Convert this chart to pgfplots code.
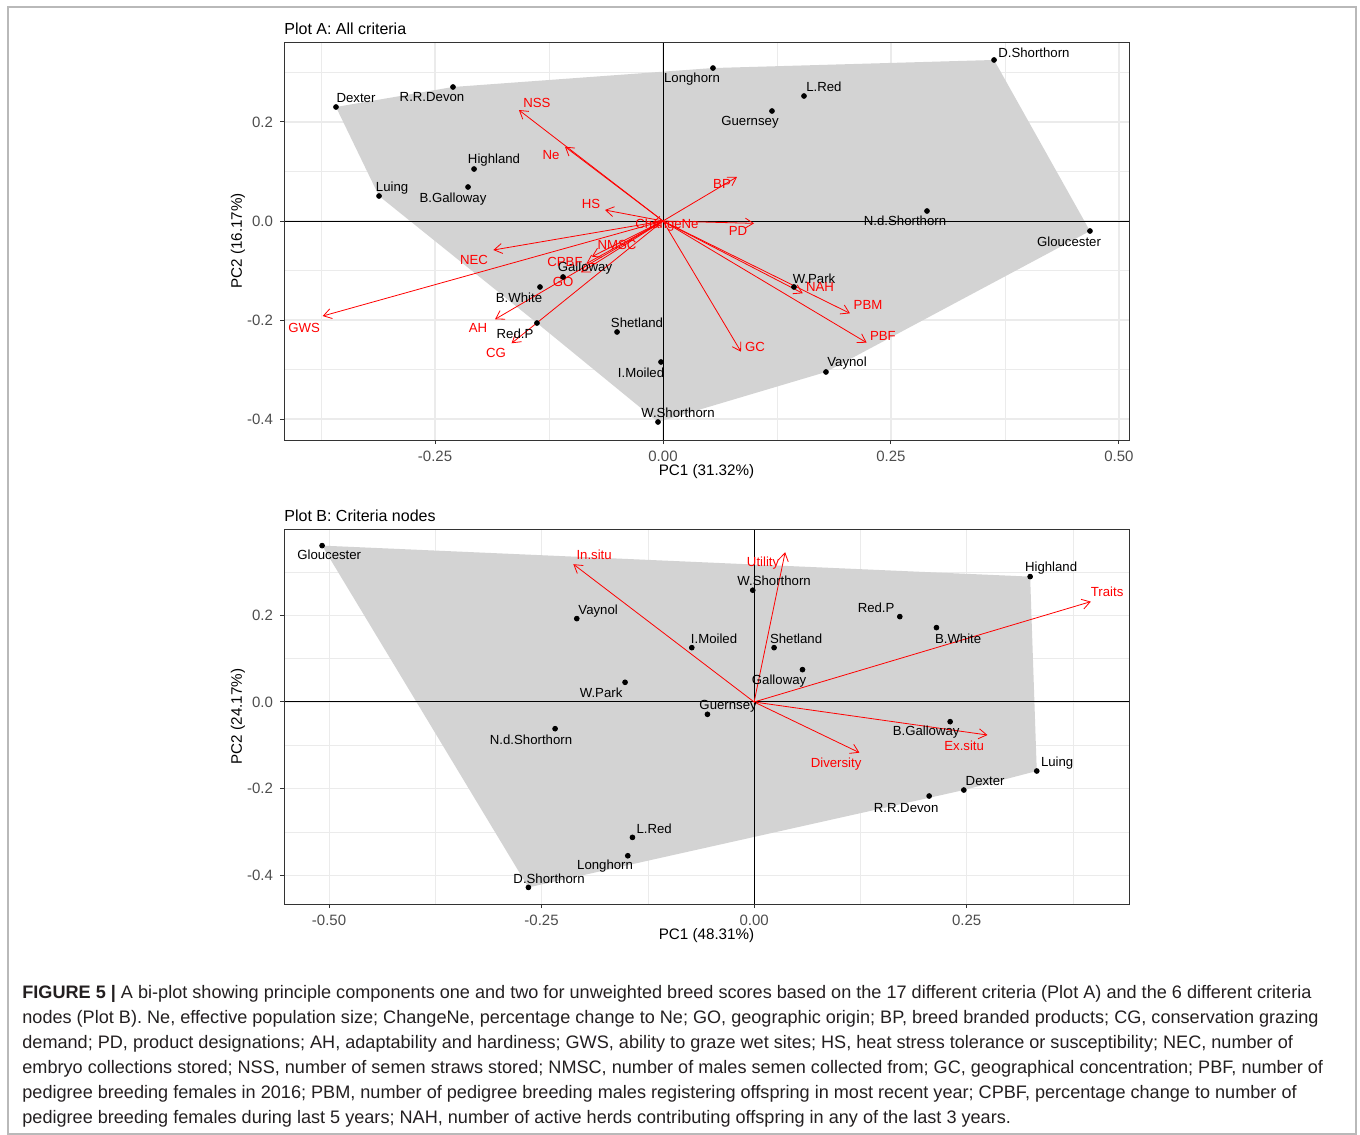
\documentclass[border=0pt]{standalone}
\usepackage{pgfplots}
\pgfplotsset{compat=1.18}
\usepackage{fontspec}
\setmainfont{Liberation Sans}
\usetikzlibrary{arrows.meta}
\definecolor{gridc}{HTML}{EBEBEB}
\definecolor{hullc}{HTML}{D3D3D3}
\definecolor{borderc}{HTML}{333333}
\definecolor{ticklab}{HTML}{4D4D4D}
\definecolor{capc}{HTML}{231F20}
\definecolor{arrc}{HTML}{FF0000}
\pgfplotsset{
 bip/.style={
  scale only axis, width=422.5pt,
  axis line style={draw=borderc, line width=0.5pt},
  tick align=outside, major tick length=2pt, minor tick length=0pt,
  tick style={draw=borderc, line width=0.5pt},
  xtick pos=bottom, ytick pos=left,
  xmajorgrids, ymajorgrids, xminorgrids, yminorgrids,
  major grid style={draw=gridc, line width=0.55pt},
  minor grid style={draw=gridc, line width=0.3pt},
  ticklabel style={font=\fontsize{7.5}{8}\selectfont, text=ticklab},
  clip=false,
 },
 arr/.style={arrc, line width=0.4pt, -{Straight Barb[length=4pt,width=5pt]}},
 dots/.style={only marks, mark=*, mark size=1.2pt, black},
 hull/.style={fill=hullc, draw=none},
}
\tikzset{
 lab/.style={font=\fontsize{6.6}{7}\selectfont, inner sep=0pt, anchor=center, text=black},
 rlab/.style={font=\fontsize{6.6}{7}\selectfont, inner sep=0pt, anchor=center, text=arrc},
 capl/.style={font=\fontsize{9.05}{10}\selectfont, inner sep=0pt, anchor=base west, text=capc},
}
\begin{document}
\begin{tikzpicture}
\useasboundingbox (0,0) rectangle (680pt,-567.5pt);
\draw[gray!55, line width=0.6pt] (4pt,-3.5pt) rectangle (678pt,-567pt);

% ---------- Plot A ----------
\node[anchor=west, inner sep=0pt, font=\fontsize{8}{9}\selectfont] at (142pt,-14.5pt) {Plot A: All criteria};
\begin{axis}[bip, at={(142pt,-21pt)}, anchor=north west, height=199pt,
  xmin=-0.4156, xmax=0.511, ymin=-0.4424, ymax=0.3616,
  xtick={-0.25,0,0.25,0.5}, xticklabels={-0.25,0.00,0.25,0.50},
  ytick={-0.4,-0.2,0,0.2}, yticklabels={-0.4,-0.2,0.0,0.2},
  minor xtick={-0.375,-0.125,0.125,0.375}, minor ytick={-0.3,-0.1,0.1,0.3}]
\addplot[hull] coordinates {(-0.3586,0.2303) (-0.2303,0.2707) (0.0548,0.3090) (0.3630,0.3253) (0.4682,-0.0202) (0.1787,-0.3050) (-0.0055,-0.4060) (-0.1382,-0.2061) (-0.3114,0.0505)} --cycle;
\draw[black, line width=0.5pt] (axis cs:0,-0.4424) -- (axis cs:0,0.3616);
\draw[black, line width=0.5pt] (axis cs:-0.4156,0) -- (axis cs:0.511,0);
\addplot[arr] coordinates {(0,0) (-0.158,0.2242)};
\addplot[arr] coordinates {(0,0) (-0.1075,0.150)};
\addplot[arr] coordinates {(0,0) (-0.0636,0.0222)};
\addplot[arr] coordinates {(0,0) (0.0811,0.0889)};
\addplot[arr] coordinates {(0,0) (0.0998,-0.0047)};
\addplot[arr] coordinates {(0,0) (-0.012,-0.004)};
\addplot[arr] coordinates {(0,0) (-0.186,-0.0586)};
\addplot[arr] coordinates {(0,0) (-0.3732,-0.192)};
\addplot[arr] coordinates {(0,0) (-0.078,-0.072)};
\addplot[arr] coordinates {(0,0) (-0.084,-0.086)};
\addplot[arr] coordinates {(0,0) (-0.090,-0.104)};
\addplot[arr] coordinates {(0,0) (-0.1842,-0.1986)};
\addplot[arr] coordinates {(0,0) (-0.166,-0.247)};
\addplot[arr] coordinates {(0,0) (0.0855,-0.264)};
\addplot[arr] coordinates {(0,0) (0.1532,-0.146)};
\addplot[arr] coordinates {(0,0) (0.205,-0.1865)};
\addplot[arr] coordinates {(0,0) (0.2233,-0.2458)};
\addplot[dots] coordinates {(-0.3586,0.2303) (-0.2303,0.2707) (0.0548,0.3090) (0.1546,0.2525) (0.1195,0.2222) (0.3630,0.3253) (-0.2072,0.1050) (-0.3114,0.0505) (-0.2138,0.0687) (0.2895,0.0202) (0.4682,-0.0202) (-0.1096,-0.1131) (-0.1349,-0.1333) (-0.1382,-0.2061) (-0.0504,-0.2242) (0.1436,-0.1333) (-0.0022,-0.2848) (0.1787,-0.3050) (-0.0055,-0.4060)};
\node[lab] at (axis cs:-0.3366,0.2485) {Dexter};
\node[lab] at (axis cs:-0.2533,0.2505) {R.R.Devon};
\node[lab] at (axis cs:0.0318,0.2869) {Longhorn};
\node[lab] at (axis cs:0.1765,0.2707) {L.Red};
\node[lab] at (axis cs:0.0954,0.2) {Guernsey};
\node[lab] at (axis cs:0.4068,0.3394) {D.Shorthorn};
\node[lab] at (axis cs:-0.1853,0.1232) {Highland};
\node[lab] at (axis cs:-0.2971,0.0667) {Luing};
\node[lab] at (axis cs:-0.2303,0.0444) {B.Galloway};
\node[lab] at (axis cs:0.2654,0) {N.d.Shorthorn};
\node[lab] at (axis cs:0.4452,-0.0424) {Gloucester};
\node[lab] at (axis cs:-0.0855,-0.0949) {Galloway};
\node[lab] at (axis cs:-0.1579,-0.1556) {B.White};
\node[lab] at (axis cs:-0.1623,-0.2283) {Red.P};
\node[lab] at (axis cs:-0.0285,-0.2061) {Shetland};
\node[lab] at (axis cs:0.1656,-0.1172) {W.Park};
\node[lab] at (axis cs:-0.0241,-0.3071) {I.Moiled};
\node[lab] at (axis cs:0.2018,-0.2869) {Vaynol};
\node[lab] at (axis cs:0.0164,-0.3879) {W.Shorthorn};
\node[rlab] at (axis cs:-0.1382,0.2384) {NSS};
\node[rlab] at (axis cs:-0.1228,0.1333) {Ne};
\node[rlab] at (axis cs:-0.0789,0.0343) {HS};
\node[rlab] at (axis cs:0.0647,0.0747) {BP};
\node[rlab] at (axis cs:0.0822,-0.0202) {PD};
\node[rlab] at (axis cs:0.0044,-0.0081) {ChangeNe};
\node[rlab] at (axis cs:-0.2072,-0.0788) {NEC};
\node[rlab] at (axis cs:-0.3936,-0.2162) {GWS};
\node[rlab] at (axis cs:-0.0504,-0.0485) {NMSC};
\node[rlab] at (axis cs:-0.1075,-0.0828) {CPBF};
\node[rlab] at (axis cs:-0.1096,-0.1232) {GO};
\node[rlab] at (axis cs:-0.2029,-0.2162) {AH};
\node[rlab] at (axis cs:-0.1831,-0.2667) {CG};
\node[rlab] at (axis cs:0.1009,-0.2545) {GC};
\node[rlab] at (axis cs:0.1721,-0.1333) {NAH};
\node[rlab] at (axis cs:0.2248,-0.1697) {PBM};
\node[rlab] at (axis cs:0.2412,-0.2323) {PBF};
\draw[borderc, line width=0.5pt] (rel axis cs:0,0) rectangle (rel axis cs:1,1);
\end{axis}
\node[inner sep=0pt, font=\fontsize{7.6}{9}\selectfont] at (353.25pt,-236pt) {PC1 (31.32\%)};
\node[inner sep=0pt, rotate=90, font=\fontsize{7.6}{9}\selectfont] at (119pt,-120.5pt) {PC2 (16.17\%)};

% ---------- Plot B ----------
\node[anchor=west, inner sep=0pt, font=\fontsize{8}{9}\selectfont] at (142pt,-258pt) {Plot B: Criteria nodes};
\begin{axis}[bip, at={(142pt,-264.5pt)}, anchor=north west, height=187.5pt,
  xmin=-0.553, xmax=0.441, ymin=-0.466, ymax=0.399,
  xtick={-0.5,-0.25,0,0.25}, xticklabels={-0.50,-0.25,0.00,0.25},
  ytick={-0.4,-0.2,0,0.2}, yticklabels={-0.4,-0.2,0.0,0.2},
  minor xtick={-0.375,-0.125,0.125,0.375}, minor ytick={-0.3,-0.1,0.1,0.3}]
\addplot[hull] coordinates {(-0.5082,0.3607) (0.3247,0.2892) (0.3325,-0.1592) (0.2467,-0.2031) (-0.2655,-0.4277)} --cycle;
\draw[black, line width=0.5pt] (axis cs:0,-0.466) -- (axis cs:0,0.399);
\draw[black, line width=0.5pt] (axis cs:-0.553,0) -- (axis cs:0.441,0);
\addplot[arr] coordinates {(0,0) (-0.2126,0.3178)};
\addplot[arr] coordinates {(0,0) (0.0365,0.3455)};
\addplot[arr] coordinates {(0,0) (0.3961,0.2315)};
\addplot[arr] coordinates {(0,0) (0.2745,-0.0762)};
\addplot[arr] coordinates {(0,0) (0.1239,-0.1169)};
\addplot[dots] coordinates {(-0.5082,0.3607) (-0.0016,0.2578) (-0.2086,0.1923) (-0.0733,0.1253) (-0.1518,0.0454) (-0.0549,-0.0284) (-0.2341,-0.0616) (-0.1431,-0.3123) (-0.1486,-0.3547) (-0.2655,-0.4277) (0.3247,0.2892) (0.1714,0.1969) (0.2145,0.1715) (0.0235,0.1253) (0.0569,0.0746) (0.2306,-0.0454) (0.3325,-0.1592) (0.2467,-0.2031) (0.2059,-0.2169)};
\node[lab] at (axis cs:-0.4998,0.3393) {Gloucester};
\node[lab] at (axis cs:0.0235,0.2793) {W.Shorthorn};
\node[lab] at (axis cs:-0.1835,0.21) {Vaynol};
\node[lab] at (axis cs:-0.0471,0.1454) {I.Moiled};
\node[lab] at (axis cs:-0.18,0.0208) {W.Park};
\node[lab] at (axis cs:-0.0306,-0.0092) {Guernsey};
\node[lab] at (axis cs:-0.2624,-0.0877) {N.d.Shorthorn};
\node[lab] at (axis cs:-0.1176,-0.2931) {L.Red};
\node[lab] at (axis cs:-0.1753,-0.3785) {Longhorn};
\node[lab] at (axis cs:-0.2412,-0.4085) {D.Shorthorn};
\node[lab] at (axis cs:0.3494,0.3093) {Highland};
\node[lab] at (axis cs:0.1435,0.2169) {Red.P};
\node[lab] at (axis cs:0.24,0.1454) {B.White};
\node[lab] at (axis cs:0.0494,0.1454) {Shetland};
\node[lab] at (axis cs:0.0294,0.0485) {Galloway};
\node[lab] at (axis cs:0.2024,-0.0692) {B.Galloway};
\node[lab] at (axis cs:0.3565,-0.1408) {Luing};
\node[lab] at (axis cs:0.2718,-0.1823) {Dexter};
\node[lab] at (axis cs:0.1788,-0.2446) {R.R.Devon};
\node[rlab] at (axis cs:-0.1882,0.3393) {In.situ};
\node[rlab] at (axis cs:0.0106,0.3208) {Utility};
\node[rlab] at (axis cs:0.4153,0.2539) {Traits};
\node[rlab] at (axis cs:0.2471,-0.1015) {Ex.situ};
\node[rlab] at (axis cs:0.0965,-0.1431) {Diversity};
\draw[borderc, line width=0.5pt] (rel axis cs:0,0) rectangle (rel axis cs:1,1);
\end{axis}
\node[inner sep=0pt, font=\fontsize{7.6}{9}\selectfont] at (353.25pt,-468pt) {PC1 (48.31\%)};
\node[inner sep=0pt, rotate=90, font=\fontsize{7.6}{9}\selectfont] at (119pt,-358.25pt) {PC2 (24.17\%)};

% ---------- Caption ----------
\node[capl] at (11pt,-499pt) {\textbf{FIGURE 5 |} A bi-plot showing principle components one and two for unweighted breed scores based on the 17 different criteria (Plot A) and the 6 different criteria};
\node[capl] at (11pt,-511.5pt) {nodes (Plot B). Ne, effective population size; ChangeNe, percentage change to Ne; GO, geographic origin; BP, breed branded products; CG, conservation grazing};
\node[capl] at (11pt,-524pt) {demand; PD, product designations; AH, adaptability and hardiness; GWS, ability to graze wet sites; HS, heat stress tolerance or susceptibility; NEC, number of};
\node[capl] at (11pt,-536.5pt) {embryo collections stored; NSS, number of semen straws stored; NMSC, number of males semen collected from; GC, geographical concentration; PBF, number of};
\node[capl] at (11pt,-549pt) {pedigree breeding females in 2016; PBM, number of pedigree breeding males registering offspring in most recent year; CPBF, percentage change to number of};
\node[capl] at (11pt,-561.5pt) {pedigree breeding females during last 5 years; NAH, number of active herds contributing offspring in any of the last 3 years.};
\end{tikzpicture}
\end{document}
